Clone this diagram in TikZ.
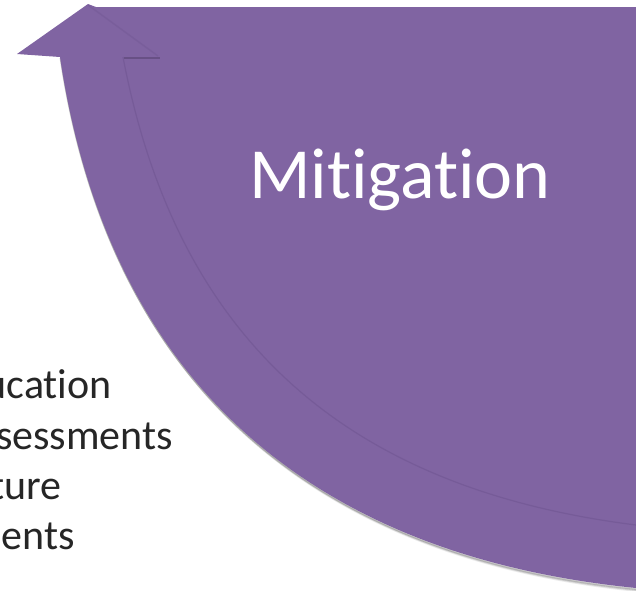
\documentclass[tikz,border=0pt]{standalone}
\usepackage{fontspec}
\setmainfont{Carlito}[Ligatures=NoCommon]
\definecolor{mitpurple}{HTML}{8064A2}
\definecolor{mitdark}{HTML}{6E5490}
\begin{document}
\begin{tikzpicture}[x=1pt,y=-1pt,
  bandfill/.style={fill=mitpurple},
  ridge/.style={draw=mitdark,line width=1.2pt},
  leftlabel/.style={anchor=base east,inner sep=0pt,text=black!85,font=\fontsize{42}{50}\selectfont},
  titlelabel/.style={anchor=base,inner sep=0pt,text=white,font=\fontsize{72}{80}\selectfont}]
\useasboundingbox (0,0) rectangle (636,590);
\begin{scope}
\clip (0,0) rectangle (636,590);
% soft shadow along the outer edge
\foreach \o/\a in {3/0.08,2/0.12,1/0.18}{
\draw[black,opacity=\a,line width=2pt,shift={(\o*0.6,\o)}]
  (60,57) .. controls (107,372) and (301,554.5) .. (636,588);
}
% main shape
\fill[bandfill] (17,54) -- (88,4) -- (96,7) -- (640,7) -- (640,588) -- (636,588)
  .. controls (301,554.5) and (107,372) .. (60,57) -- cycle;
% arrowhead ridge and notch shadow
\draw[draw=mitdark,opacity=0.35,line width=1.5pt] (88,5) -- (158,56);
\draw[draw=mitdark!80!black,opacity=0.6,line width=2pt] (124,58) -- (160,58);
% inner band edge
\draw[ridge,opacity=0.55] (123,57) .. controls (175,330) and (336,487.5) .. (636,525);
\end{scope}
\node[titlelabel] (title) at (400,198) {Mitigation};
\node[leftlabel] (l1) at (112,398) {ucation};
\node[leftlabel] (l2) at (173,449) {sessments};
\node[leftlabel] (l3) at (62,499) {ture};
\node[leftlabel] (l4) at (75,549) {nents};
\end{tikzpicture}
\end{document}
